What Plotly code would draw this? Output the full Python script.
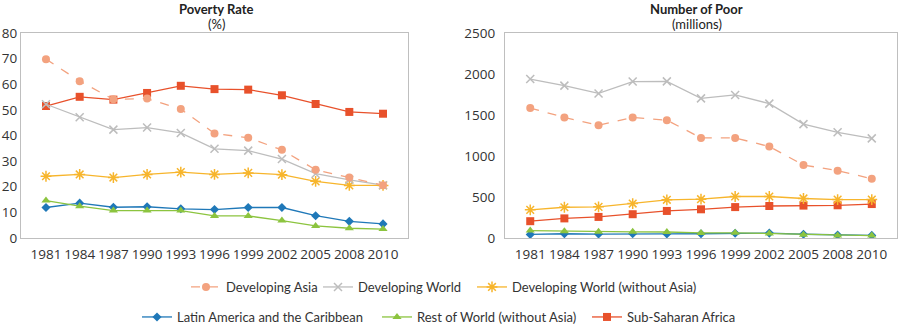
import plotly.graph_objects as go

years = ["1981", "1984", "1987", "1990", "1993", "1996", "1999", "2002", "2005", "2008", "2010"]

# Poverty rate (%)
rate_dev_asia = [69.8, 61.2, 54.1, 54.4, 50.3, 40.8, 39.1, 34.4, 26.6, 23.6, 20.6]
rate_dev_world = [52.2, 47.1, 42.3, 43.1, 41.0, 34.8, 34.1, 30.8, 25.1, 22.7, 20.6]
rate_dev_world_no_asia = [24.1, 24.8, 23.6, 24.8, 25.7, 24.8, 25.4, 24.7, 22.1, 20.5, 20.5]
rate_lac = [11.9, 13.6, 12.0, 12.2, 11.4, 11.1, 11.9, 11.9, 8.7, 6.5, 5.5]
rate_row = [14.6, 12.4, 10.7, 10.7, 10.7, 8.6, 8.6, 6.8, 4.7, 3.8, 3.5]
rate_ssa = [51.5, 55.1, 54.0, 56.6, 59.4, 58.1, 57.9, 55.7, 52.3, 49.2, 48.5]

# Number of poor (millions)
poor_dev_asia = [1585, 1470, 1376, 1470, 1437, 1221, 1221, 1115, 890, 821, 723]
poor_dev_world = [1938, 1858, 1763, 1908, 1910, 1703, 1745, 1639, 1389, 1289, 1215]
poor_dev_world_no_asia = [343, 375, 380, 420, 466, 473, 506, 506, 482, 469, 469]
poor_lac = [43, 52, 48, 53, 50, 52, 58, 60, 46, 36, 32]
poor_row = [90, 83, 75, 75, 73, 62, 63, 55, 40, 32, 30]
poor_ssa = [205, 239, 257, 290, 330, 350, 377, 390, 395, 399, 414]

# name, rate, poor, colour, symbol, size, dash, legend id, legend x (px), legend row y (px)
series = [
    ("Developing Asia", rate_dev_asia, poor_dev_asia, "#F3A27F", "circle", 8, "dash", "legend", 186, 287),
    ("Developing World", rate_dev_world, poor_dev_world, "#BDBDBD", "x-thin-open", 8, "solid", "legend2", 318, 287),
    ("Developing World (without Asia)", rate_dev_world_no_asia, poor_dev_world_no_asia, "#F7B52C", "asterisk-open", 9, "solid", "legend3", 472, 287),
    ("Latin America and the Caribbean", rate_lac, poor_lac, "#1F78B8", "diamond", 7, "solid", "legend4", 137, 317),
    ("Rest of World (without Asia)", rate_row, poor_row, "#8CC43F", "triangle-up", 8, "solid", "legend5", 377, 317),
    ("Sub-Saharan Africa", rate_ssa, poor_ssa, "#E8512B", "square", 8, "solid", "legend6", 587, 317),
]

W, H = 900, 325
fig = go.Figure()
legend_layouts = {}
order = [3, 4, 5, 2, 1, 0]
for i in order:
    name, r, p, col, sym, sz, dash, lg, lx, ly = series[i]
    open_sym = sym.endswith("open")
    mk = dict(symbol=sym, size=sz, color=col, line=dict(color=col, width=1.5 if open_sym else 0))
    fig.add_trace(go.Scatter(x=years, y=r, mode="lines+markers", name=name,
                             line=dict(color=col, width=1.3, dash=dash), marker=mk,
                             xaxis="x", yaxis="y", legend=lg, showlegend=True))
    fig.add_trace(go.Scatter(x=years, y=p, mode="lines+markers", name=name,
                             line=dict(color=col, width=1.3, dash=dash), marker=mk,
                             xaxis="x2", yaxis="y2", legend=lg, showlegend=False))
    legend_layouts[lg] = dict(orientation="h", x=lx / W, xanchor="left", y=1 - ly / H, yanchor="middle",
                              font=dict(family="Lato", size=13, color="#333333"),
                              bgcolor="rgba(0,0,0,0)", borderwidth=0)

tickfont = dict(family="Open Sans", size=13.5, color="#333333")
axline = dict(showline=True, mirror=True, linecolor="#BFBFBF", linewidth=1.2,
              showgrid=False, zeroline=False, ticks="")

titlefont = dict(family="Lato", size=13, color="#222222")
fig.update_layout(
    width=W, height=H,
    margin=dict(l=0, r=0, t=0, b=0, autoexpand=False),
    paper_bgcolor="white", plot_bgcolor="white",
    xaxis=dict(domain=[21 / W, 408 / W], anchor="y", tickfont=tickfont, type="category",
               ticklabelstandoff=4, **axline),
    yaxis=dict(domain=[1 - 238 / H, 1 - 33 / H], anchor="x", range=[0, 80], dtick=10,
               tickfont=tickfont, **axline),
    xaxis2=dict(domain=[505 / W, 897 / W], anchor="y2", tickfont=tickfont, type="category",
                ticklabelstandoff=4, **axline),
    yaxis2=dict(domain=[1 - 238 / H, 1 - 33 / H], anchor="x2", range=[0, 2500], dtick=500,
                tickfont=tickfont, ticklabelstandoff=6, **axline),
    annotations=[
        dict(text="<b>Poverty Rate</b>", x=216.5 / W, y=1 - 8.5 / H, xref="paper", yref="paper",
             xanchor="center", yanchor="middle", showarrow=False, font=titlefont),
        dict(text="(%)", x=216.5 / W, y=1 - 24 / H, xref="paper", yref="paper",
             xanchor="center", yanchor="middle", showarrow=False, font=titlefont),
        dict(text="<b>Number of Poor</b>", x=696.5 / W, y=1 - 8.5 / H, xref="paper", yref="paper",
             xanchor="center", yanchor="middle", showarrow=False, font=titlefont),
        dict(text="(millions)", x=696.5 / W, y=1 - 24 / H, xref="paper", yref="paper",
             xanchor="center", yanchor="middle", showarrow=False, font=titlefont),
    ],
    **legend_layouts,
)

fig.write_html("out.html")
